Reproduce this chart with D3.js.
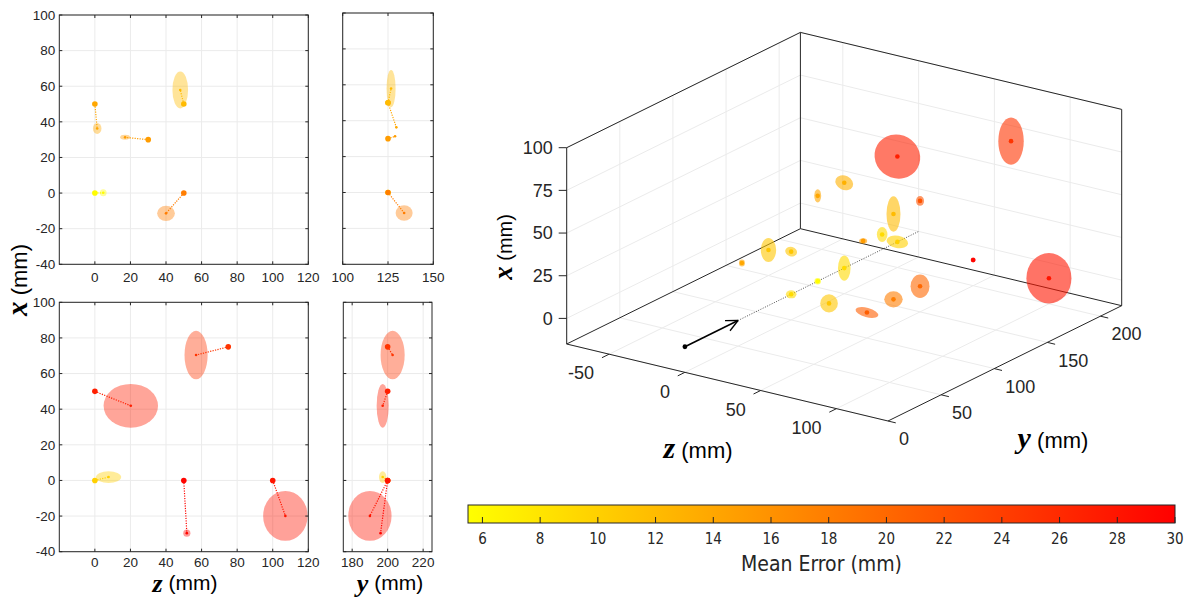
<!DOCTYPE html>
<html>
<head>
<meta charset="utf-8">
<script src="https://cdn.jsdelivr.net/npm/d3@7"></script>
<style>
body { margin: 0; background: #fff; }
svg text { font-family: "Liberation Sans", Arial, sans-serif; fill: #262626; }
.grid { stroke: #ebebeb; stroke-width: 1; fill: none; }
.frame { stroke: #262626; stroke-width: 1; fill: none; }
.tick { stroke: #262626; stroke-width: 1; }
.math { font-family: "Liberation Serif", "DejaVu Serif", serif; font-weight: bold; font-style: italic; fill: #000; }
.unit { fill: #000; }
</style>
</head>
<body>
<svg id="chart" width="1194" height="597"></svg>
<script>
// colour scale (mean error, mm)
var errLim = [5.5, 30];
var errTicks = [6, 8, 10, 12, 14, 16, 18, 20, 22, 24, 26, 28, 30];

// 2-d panel ticks
var zTicks2d = [0, 20, 40, 60, 80, 100, 120];
var xTicks2d = [-40, -20, 0, 20, 40, 60, 80, 100];
var yTicksTop = [100, 125, 150];
var yTicksBot = [180, 200, 220];

// top row: targets in the y = 125 mm plane
var topTrueZ = [0, 30, 50, 0, 50];
var topTrueX = [50, 30, 50, 0, 0];
var topTrueY = [125, 125, 125, 125, 125];
var topEstZ = [1.3, 17, 48, 4.7, 40];
var topEstX = [36.3, 31.3, 57.9, 0.2, -11.4];
var topEstY = [129.6, 128.9, 126.7, 125.4, 133.9];
var topSdZ = [2.4, 2.8, 4.4, 1.9, 5];
var topSdX = [3.1, 1.4, 10.4, 2, 4.3];
var topSdY = [0, 0, 2.5, 0, 4.7];
var topErr = [14, 15, 12, 5.7, 18];

// bottom row: targets in the y = 200 mm plane
var botTrueZ = [0, 75, 0, 50, 100];
var botTrueX = [50, 75, 0, 0, 0];
var botTrueY = [200, 200, 200, 200, 200];
var botEstZ = [20.2, 56.9, 7.7, 51.7, 107.1];
var botEstX = [41.9, 70.4, 1.9, -29.6, -19.9];
var botEstY = [197.2, 202.8, 197.2, 196, 190];
var botSdZ = [15.3, 6.5, 7.1, 2, 12.5];
var botSdX = [12.3, 13.6, 3.3, 2, 14];
var botSdY = [3.4, 6.8, 2.1, 0, 12.2];
var botErr = [27, 25, 10, 29.5, 28];

// 3-d view: all target positions
var z3Lim = [-78, 134];
var y3Lim = [0, 220];
var x3Lim = [-15, 100];
var z3Ticks = [-50, 0, 50, 100];
var y3Ticks = [0, 50, 100, 150, 200];
var x3Ticks = [0, 25, 50, 75, 100];
var ptZ = [-50, 0, -50, 0, 0, 0, 50, 50, 25, 30, 0, 0, 0, 0, 25, 50, 50, 50, 75, 50, 100];
var ptY = [150, 100, 125, 150, 125, 200, 150, 125, 150, 125, 200, 150, 125, 100, 100, 100, 125, 150, 200, 200, 200];
var ptX = [0, 25, 0, 50, 50, 50, 50, 50, 25, 30, 0, 0, 0, 0, 0, 0, 0, 0, 75, 0, 0];
var ptErr = [11, 11, 14, 13, 14, 27, 22, 12, 9, 15, 10, 9, 5.7, 9, 11, 21, 18, 20, 25, 29.5, 28];
var ptSdA = [4.5, 3.5, 1.75, 5.4, 2.05, 13.6, 2.35, 4.1, 3.1, 2.35, 6.4, 3.7, 1.9, 3.1, 5.15, 6.85, 5.4, 5.55, 7.45, 1.45, 13.2];
var ptSdB = [7.0, 2.75, 2.05, 4.2, 3.9, 12.7, 2.9, 10.4, 4.4, 1.6, 3.6, 7.4, 1.9, 2.35, 5.3, 2.75, 4.7, 6.85, 13.9, 1.45, 14.8];
var ptTilt = [0, 15, 0, 25, 0, 30, 0, 0, 0, 0, 10, 0, 0, 0, 0, 15, 0, 0, 0, 0, 0];
// source direction arrow (along y)
var arrowY = [0, 50];
var rayY = [50, 220];

var svg = d3.select("#chart");
var color = d3.scaleLinear().domain(errLim).range(["#ffff00", "#ff0000"]);

function panel(box, hDom, vDom, hTicks, vTicks, showV, labY) {
    var sx = d3.scaleLinear().domain(hDom).range([box.x0, box.x1]);
    var sy = d3.scaleLinear().domain(vDom).range([box.y1, box.y0]);
    var g = svg.append("g");
    g.selectAll(null).data(hTicks).enter().append("line")
        .attr("class", "grid")
        .attr("x1", sx).attr("x2", sx)
        .attr("y1", box.y0).attr("y2", box.y1);
    g.selectAll(null).data(vTicks).enter().append("line")
        .attr("class", "grid")
        .attr("x1", box.x0).attr("x2", box.x1)
        .attr("y1", sy).attr("y2", sy);
    var marks = svg.append("g");
    var top = svg.append("g");
    top.append("rect").attr("class", "frame")
        .attr("x", box.x0).attr("y", box.y0)
        .attr("width", box.x1 - box.x0).attr("height", box.y1 - box.y0);
    hTicks.forEach(function (t) {
        top.append("line").attr("class", "tick")
            .attr("x1", sx(t)).attr("x2", sx(t)).attr("y1", box.y1).attr("y2", box.y1 - 3);
        top.append("line").attr("class", "tick")
            .attr("x1", sx(t)).attr("x2", sx(t)).attr("y1", box.y0).attr("y2", box.y0 + 3);
        top.append("text").attr("x", sx(t)).attr("y", labY)
            .attr("text-anchor", "middle").attr("dy", "0.35em")
            .style("font-size", "13.5px").text(t);
    });
    vTicks.forEach(function (t) {
        top.append("line").attr("class", "tick")
            .attr("x1", box.x0).attr("x2", box.x0 + 3).attr("y1", sy(t)).attr("y2", sy(t));
        top.append("line").attr("class", "tick")
            .attr("x1", box.x1).attr("x2", box.x1 - 3).attr("y1", sy(t)).attr("y2", sy(t));
        if (showV) {
            top.append("text").attr("x", box.x0 - 4).attr("y", sy(t))
                .attr("text-anchor", "end").attr("dy", "0.35em")
                .style("font-size", "13.5px").text(t);
        }
    });
    return { g: marks, sx: sx, sy: sy };
}

function drawMarks(p, tH, tV, eH, eV, sdH, sdV, err) {
    var idx = d3.range(tH.length);
    p.g.selectAll(null).data(idx).enter().append("ellipse")
        .attr("cx", function (i) { return p.sx(eH[i]); })
        .attr("cy", function (i) { return p.sy(eV[i]); })
        .attr("rx", function (i) { return Math.abs(p.sx(sdH[i]) - p.sx(0)); })
        .attr("ry", function (i) { return Math.abs(p.sy(sdV[i]) - p.sy(0)); })
        .attr("fill", function (i) { return color(err[i]); })
        .attr("fill-opacity", 0.4);
    p.g.selectAll(null).data(idx).enter().append("line")
        .attr("x1", function (i) { return p.sx(tH[i]); })
        .attr("y1", function (i) { return p.sy(tV[i]); })
        .attr("x2", function (i) { return p.sx(eH[i]); })
        .attr("y2", function (i) { return p.sy(eV[i]); })
        .attr("stroke", function (i) { return color(err[i]); })
        .attr("stroke-width", 1.2)
        .attr("stroke-dasharray", "1.2,1.3");
    idx.forEach(function (i) {
        p.g.append("circle").attr("cx", p.sx(tH[i])).attr("cy", p.sy(tV[i]))
            .attr("r", 2.8).attr("fill", color(err[i]));
        p.g.append("circle").attr("cx", p.sx(eH[i])).attr("cy", p.sy(eV[i]))
            .attr("r", 1.3).attr("fill", color(err[i]));
    });
}

var pTL = panel({ x0: 59.3, x1: 308.3, y0: 15, y1: 264.3 }, [-20, 120], [-40, 100], zTicks2d, xTicks2d, true, 277);
var pTM = panel({ x0: 342.7, x1: 433.3, y0: 13, y1: 264.3 }, [100, 150], [-40, 100], yTicksTop, xTicks2d, false, 277);
var pBL = panel({ x0: 59.3, x1: 308.3, y0: 302.3, y1: 551.7 }, [-20, 120], [-40, 100], zTicks2d, xTicks2d, true, 562);
var pBM = panel({ x0: 343.3, x1: 432, y0: 302.3, y1: 551.7 }, [175, 225], [-40, 100], yTicksBot, xTicks2d, false, 562);

drawMarks(pTL, topTrueZ, topTrueX, topEstZ, topEstX, topSdZ, topSdX, topErr);
drawMarks(pTM, topTrueY, topTrueX, topEstY, topEstX, topSdY, topSdX, topErr);
drawMarks(pBL, botTrueZ, botTrueX, botEstZ, botEstX, botSdZ, botSdX, botErr);
drawMarks(pBM, botTrueY, botTrueX, botEstY, botEstX, botSdY, botSdX, botErr);

// axis title: bold italic symbol followed by the unit, as two texts
function axisLabel(x, y, sym, symSize, unitSize, rot, symDy) {
    var g = svg.append("g")
        .attr("transform", "translate(" + x + "," + y + ")" + (rot ? " rotate(-90)" : ""));
    var s = g.append("text").attr("class", "math").attr("text-anchor", "end")
        .attr("y", symDy || 0)
        .style("font-size", symSize + "px").text(sym);
    var sw = s.node().getComputedTextLength();
    var u = g.append("text").attr("class", "unit").attr("text-anchor", "start")
        .style("font-size", unitSize + "px").text("(mm)");
    var uw = u.node().getComputedTextLength();
    var gap = unitSize * 0.28;
    var total = sw + gap + uw;
    s.attr("x", -total / 2 + sw);
    u.attr("x", -total / 2 + sw + gap);
}
axisLabel(27, 280, "x", 29, 22, true);
axisLabel(185, 590, "z", 26, 21, false, 2);
axisLabel(390, 590, "y", 26, 21, false, 2);

// ---------- 3-d view ----------
var corner = [566.7, 344];
var zVec = [321.3, 77];
var yVec = [233.7, -115.3];
var zs = d3.scaleLinear().domain(z3Lim).range([0, 1]);
var ys = d3.scaleLinear().domain(y3Lim).range([0, 1]);
var xs = d3.scaleLinear().domain(x3Lim).range([0, 196.3]);

function proj(z, y, x) {
    var a = zs(z), b = ys(y);
    return [corner[0] + a * zVec[0] + b * yVec[0], corner[1] + a * zVec[1] + b * yVec[1] - xs(x)];
}

var g3 = svg.append("g");
function seg(cls, p, q) {
    return g3.append("line").attr("class", cls)
        .attr("x1", p[0]).attr("y1", p[1]).attr("x2", q[0]).attr("y2", q[1]);
}
var z0 = z3Lim[0], z1 = z3Lim[1], y0 = y3Lim[0], y1 = y3Lim[1], x0 = x3Lim[0], x1 = x3Lim[1];

// grid on the three back planes
y3Ticks.forEach(function (y) {
    seg("grid", proj(z0, y, x0), proj(z0, y, x1));
    seg("grid", proj(z0, y, x0), proj(z1, y, x0));
});
z3Ticks.forEach(function (z) {
    seg("grid", proj(z, y1, x0), proj(z, y1, x1));
    seg("grid", proj(z, y0, x0), proj(z, y1, x0));
});
x3Ticks.forEach(function (x) {
    seg("grid", proj(z0, y0, x), proj(z0, y1, x));
    seg("grid", proj(z0, y1, x), proj(z1, y1, x));
});

// box
[[[z0, y0, x0], [z0, y0, x1]], [[z0, y1, x0], [z0, y1, x1]], [[z1, y1, x0], [z1, y1, x1]],
 [[z0, y0, x1], [z0, y1, x1]], [[z0, y1, x1], [z1, y1, x1]],
 [[z0, y0, x0], [z0, y1, x0]], [[z0, y1, x0], [z1, y1, x0]],
 [[z0, y0, x0], [z1, y0, x0]], [[z1, y0, x0], [z1, y1, x0]]].forEach(function (e) {
    seg("frame", proj.apply(null, e[0]), proj.apply(null, e[1])).attr("stroke-width", 1.2);
});

// ticks and tick labels
x3Ticks.forEach(function (x) {
    var p = proj(z0, y0, x);
    seg("tick", p, [p[0] - 8, p[1]]);
    g3.append("text").attr("x", p[0] - 14).attr("y", p[1]).attr("dy", "0.35em")
        .attr("text-anchor", "end").style("font-size", "18px").text(x);
});
var ny = Math.hypot(yVec[0], yVec[1]), nz = Math.hypot(zVec[0], zVec[1]);
z3Ticks.forEach(function (z) {
    var p = proj(z, y0, x0);
    seg("tick", p, [p[0] - 8 * yVec[0] / ny, p[1] - 8 * yVec[1] / ny]);
    g3.append("text").attr("x", p[0] - 15).attr("y", p[1] + 19).attr("dy", "0.35em")
        .attr("text-anchor", "end").style("font-size", "18px").text(z);
});
y3Ticks.forEach(function (y) {
    var p = proj(z1, y, x0);
    seg("tick", p, [p[0] + 8 * zVec[0] / nz, p[1] + 8 * zVec[1] / nz]);
    g3.append("text").attr("x", p[0] + 11).attr("y", p[1] + 18).attr("dy", "0.35em")
        .attr("text-anchor", "start").style("font-size", "18px").text(y);
});

// source ray and arrow
var r0 = proj(0, rayY[0], 0), r1 = proj(0, rayY[1], 0);
seg("ray", r0, r1).attr("stroke", "#222").attr("stroke-width", 0.8).attr("stroke-dasharray", "1,1.5");
var a0 = proj(0, arrowY[0], 0), a1 = proj(0, arrowY[1], 0);
seg("arrow", a0, a1).attr("stroke", "#000").attr("stroke-width", 1.6);
var ang = Math.atan2(a1[1] - a0[1], a1[0] - a0[0]);
[-0.45, 0.45].forEach(function (d) {
    seg("arrow", a1, [a1[0] - 13 * Math.cos(ang + d), a1[1] - 13 * Math.sin(ang + d)])
        .attr("stroke", "#000").attr("stroke-width", 1.3);
});
g3.append("circle").attr("cx", a0[0]).attr("cy", a0[1]).attr("r", 2.4).attr("fill", "#000");

// targets, drawn back to front
var mmPx = xs(1) - xs(0);
var order = d3.range(ptZ.length).sort(function (a, b) {
    return proj(ptZ[a], ptY[a], x0)[1] - proj(ptZ[b], ptY[b], x0)[1];
});
order.forEach(function (i) {
    var p = proj(ptZ[i], ptY[i], ptX[i]);
    g3.append("ellipse")
        .attr("transform", "translate(" + p[0] + "," + p[1] + ") rotate(" + ptTilt[i] + ")")
        .attr("rx", ptSdA[i] * mmPx).attr("ry", ptSdB[i] * mmPx)
        .attr("fill", color(ptErr[i])).attr("fill-opacity", 0.6);
    g3.append("circle").attr("cx", p[0]).attr("cy", p[1]).attr("r", 2.3)
        .attr("fill", color(ptErr[i]));
});

axisLabel(512, 247, "x", 27, 20, true);
axisLabel(698, 458, "z", 30, 22, false);
axisLabel(1053, 448, "y", 30, 22, false);

// ---------- colour bar ----------
var cb = { x0: 468, x1: 1175, y0: 505, y1: 523 };
var cs = d3.scaleLinear().domain(errLim).range([cb.x0, cb.x1]);
var grad = svg.append("defs").append("linearGradient").attr("id", "cbar");
grad.selectAll("stop").data(errLim).enter().append("stop")
    .attr("offset", function (d, i) { return (i * 100) + "%"; })
    .attr("stop-color", color);
svg.append("rect").attr("x", cb.x0).attr("y", cb.y0)
    .attr("width", cb.x1 - cb.x0).attr("height", cb.y1 - cb.y0)
    .attr("fill", "url(#cbar)").attr("stroke", "#262626").attr("stroke-width", 1);
errTicks.forEach(function (t) {
    svg.append("line").attr("class", "tick")
        .attr("x1", cs(t)).attr("x2", cs(t)).attr("y1", cb.y1).attr("y2", cb.y1 - 6);
    svg.append("text").attr("x", cs(t)).attr("y", 539).attr("dy", "0.35em")
        .attr("text-anchor", "middle")
        .style("font-family", "'Liberation Sans Narrow', 'DejaVu Sans Condensed', 'Liberation Sans', sans-serif")
        .style("font-size", "15px").text(t);
});
svg.append("text").attr("x", (cb.x0 + cb.x1) / 2).attr("y", 564).attr("dy", "0.35em")
    .attr("text-anchor", "middle")
    .style("font-family", "'Liberation Sans Narrow', 'DejaVu Sans Condensed', 'Liberation Sans', sans-serif")
    .style("font-size", "21px").text("Mean Error (mm)");
</script>
</body>
</html>
